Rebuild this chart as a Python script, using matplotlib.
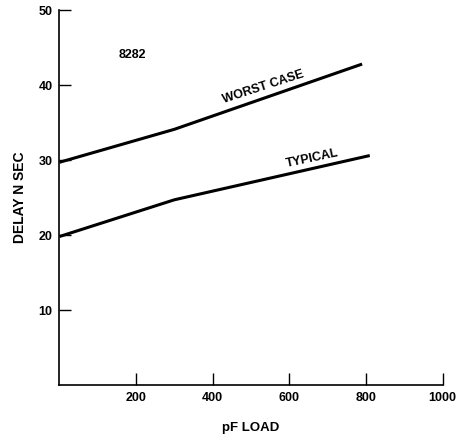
import matplotlib.pyplot as plt

# Delay vs capacitive load (8282)
worst_load = [0, 300, 790]
worst_delay = [29.7, 34.1, 42.8]
typ_load = [0, 300, 810]
typ_delay = [19.8, 24.7, 30.6]

x_ticks = [200, 400, 600, 800, 1000]
y_ticks = [10, 20, 30, 40, 50]

plt.rcParams['font.family'] = ['Liberation Sans', 'DejaVu Sans']
plt.rcParams['font.weight'] = 'bold'

fig = plt.figure(figsize=(4.61, 4.38), dpi=100)
ax = fig.add_axes([0.129, 0.121, 0.831, 0.856])

ax.plot(worst_load, worst_delay, color='black', linewidth=2.2, solid_capstyle='butt')
ax.plot(typ_load, typ_delay, color='black', linewidth=2.2, solid_capstyle='butt')

ax.set_xlim(0, 1000)
ax.set_ylim(0, 50)
ax.set_xticks(x_ticks)
ax.set_yticks(y_ticks)
ax.set_xticklabels([str(v) for v in x_ticks], fontsize=9, fontweight='bold')
ax.set_yticklabels([str(v) for v in y_ticks], fontsize=9, fontweight='bold')
ax.tick_params(direction='in', length=8.5, width=1.0, pad=5)

for side in ['top', 'right']:
    ax.spines[side].set_visible(False)
for side in ['left', 'bottom']:
    ax.spines[side].set_linewidth(1.2)

ax.set_xlabel('pF LOAD', fontsize=9.5, fontweight='bold', labelpad=13)
ax.set_ylabel('DELAY N SEC', fontsize=10, fontweight='bold', labelpad=8)

ax.text(190, 44, '8282', fontsize=9, fontweight='bold', ha='center', va='center')
ax.text(532, 39.8, 'WORST CASE', fontsize=9, fontweight='bold', ha='center', va='center',
        rotation=18)
ax.text(660, 30.2, 'TYPICAL', fontsize=9, fontweight='bold', ha='center', va='center',
        rotation=12)

plt.savefig('out.png', dpi=100)
